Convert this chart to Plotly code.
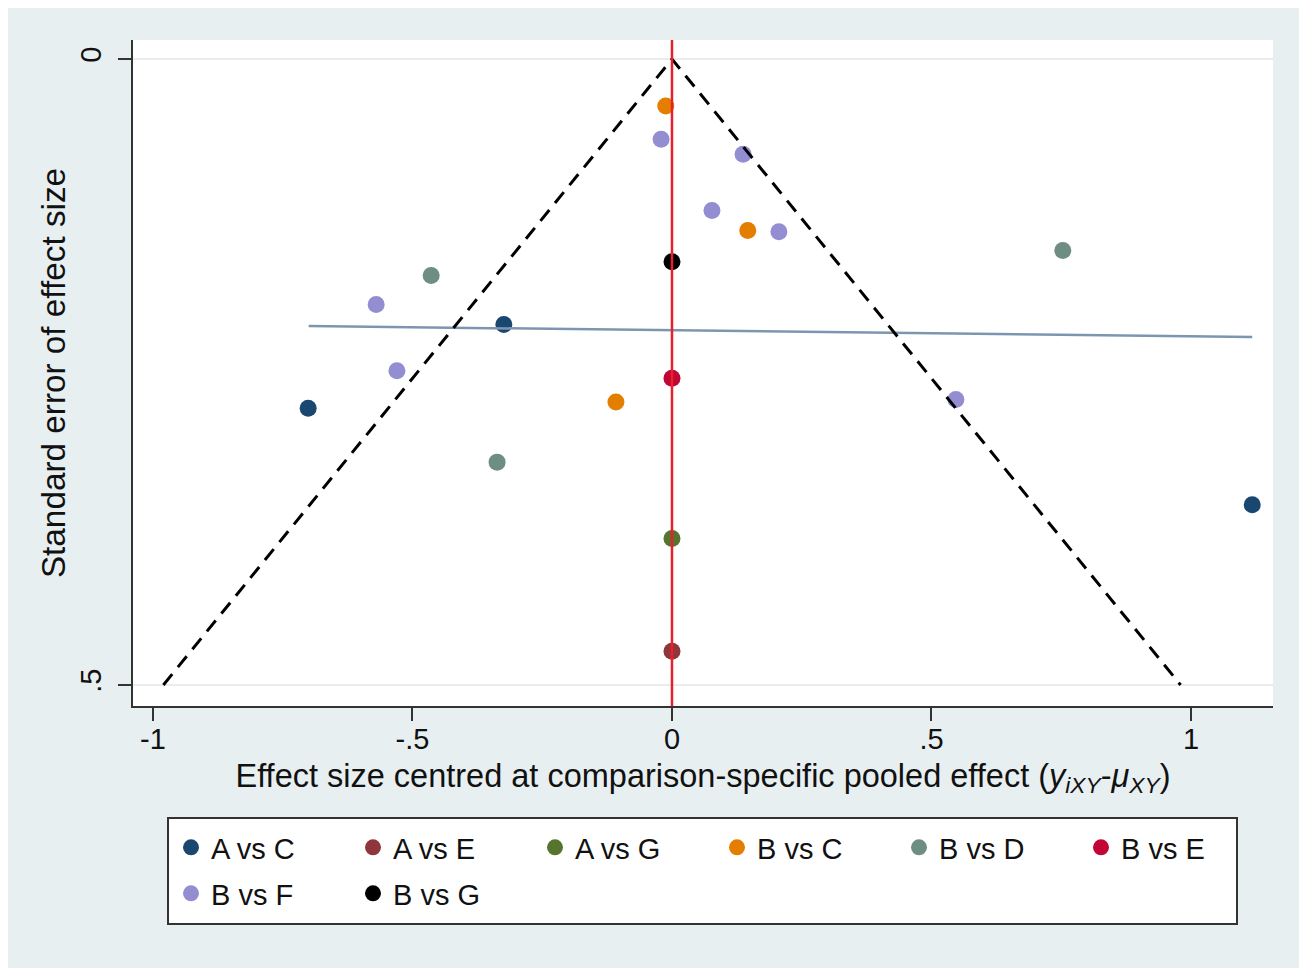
import plotly.graph_objects as go

# ---- data ----
groups = ["A vs C", "A vs E", "A vs G", "B vs C", "B vs D", "B vs E", "B vs F", "B vs G"]
colors = ["#1a476f", "#90353b", "#55752f", "#e37e00", "#6e8e84", "#c10534", "#938dd2", "#000000"]

x_AC = [-0.701, -0.324, 1.118]
y_AC = [0.279, 0.212, 0.356]
x_AE = [0.0]
y_AE = [0.473]
x_AG = [0.0]
y_AG = [0.383]
x_BC = [-0.012, 0.146, -0.108]
y_BC = [0.0375, 0.137, 0.274]
x_BD = [-0.464, 0.753, -0.337]
y_BD = [0.173, 0.153, 0.322]
x_BE = [0.0]
y_BE = [0.255]
x_BF = [-0.021, 0.137, 0.077, 0.206, -0.570, -0.530, 0.547]
y_BF = [0.064, 0.076, 0.121, 0.138, 0.196, 0.249, 0.272]
x_BG = [0.0]
y_BG = [0.162]

xs = [x_AC, x_AE, x_AG, x_BC, x_BD, x_BE, x_BF, x_BG]
ys = [y_AC, y_AE, y_AG, y_BC, y_BD, y_BE, y_BF, y_BG]

# funnel (pseudo 95% limits) and fitted line
funnel_x = [-0.98, 0.0, 0.98]
funnel_y = [0.5, 0.0, 0.5]
reg_x = [-0.70, 1.118]
reg_y = [0.2133, 0.222]

x_ticks = [-1, -0.5, 0, 0.5, 1]
x_ticktext = ["-1", "-.5", "0", ".5", "1"]
y_ticks = [0, 0.5]
y_ticktext = ["0", ".5"]

x_range = [-1.0385, 1.158]
y_range = [0.5168, -0.0152]

FONT = "Liberation Sans, Arial, sans-serif"
W, H = 1299, 963   # page body adds an 8px white margin

fig = go.Figure()
for i, (g, c, x, y) in enumerate(zip(groups, colors, xs, ys)):
    fig.add_trace(go.Scatter(
        x=x, y=y, mode="markers", name=g,
        marker=dict(color=c, size=17, line=dict(width=0)),
        legend="legend" if i < 6 else "legend2",
        hoverinfo="x+y+name",
    ))

fig.add_trace(go.Scatter(x=reg_x, y=reg_y, mode="lines", showlegend=False,
                         line=dict(color="#7d96b0", width=2.5)))
fig.add_trace(go.Scatter(x=funnel_x, y=funnel_y, mode="lines", showlegend=False,
                         line=dict(color="#000000", width=3, dash="14px,9px")))
fig.add_trace(go.Scatter(x=[0, 0], y=y_range, mode="lines", showlegend=False,
                         line=dict(color="#e8202a", width=2.5)))

axis_common = dict(
    showline=True, linecolor="#333333", linewidth=2,
    ticks="outside", ticklen=13, tickwidth=2, tickcolor="#333333",
    tickfont=dict(family=FONT, size=29, color="#111111"),
    zeroline=False, mirror=False,
)

LEG_X = (171 - 133) / 1140

fig.update_layout(
    width=W, height=H,
    margin=dict(l=125, r=34, t=32, b=265),
    paper_bgcolor="#e8eff1",
    plot_bgcolor="#ffffff",
    font=dict(family=FONT, color="#111111"),
    xaxis=dict(
        **axis_common,
        range=x_range, tickmode="array", tickvals=x_ticks, ticktext=x_ticktext,
        showgrid=False, ticklabelstandoff=-7,
        title=dict(
            text="Effect size centred at comparison-specific pooled effect (<i>y</i><sub><i>iXY</i></sub>-<i>μ</i><sub><i>XY</i></sub>)",
            font=dict(family=FONT, size=32.5, color="#111111"), standoff=10),
    ),
    yaxis=dict(
        **axis_common,
        range=y_range, tickmode="array", tickvals=y_ticks, ticktext=y_ticktext,
        tickangle=-90, ticklabelstandoff=5,
        showgrid=True, gridcolor="#ececec", gridwidth=2,
        title=dict(text="Standard error of effect size",
                   font=dict(family=FONT, size=33.3, color="#111111"), standoff=0),
    ),
    legend=dict(
        orientation="h", x=LEG_X, xanchor="left",
        y=(706 - 822) / 666, yanchor="top",
        entrywidth=137, entrywidthmode="pixels",
        font=dict(family=FONT, size=29, color="#111111"),
        bgcolor="rgba(0,0,0,0)", borderwidth=0,
    ),
    legend2=dict(
        orientation="h", x=LEG_X, xanchor="left",
        y=(706 - 868) / 666, yanchor="top",
        entrywidth=137, entrywidthmode="pixels",
        font=dict(family=FONT, size=29, color="#111111"),
        bgcolor="rgba(0,0,0,0)", borderwidth=0,
    ),
    shapes=[
        # legend box
        dict(type="rect", xref="paper", yref="paper",
             x0=(168 - 133) / 1140, x1=(1237 - 133) / 1140,
             y0=(706 - 924) / 666, y1=(706 - 818) / 666,
             fillcolor="#ffffff", line=dict(color="#333333", width=2), layer="below"),
        # thin white strips at right and bottom edges of the figure
        dict(type="rect", xref="paper", yref="paper",
             x0=(1302 - 133) / 1140, x1=(1310 - 133) / 1140,
             y0=(706 - 975) / 666, y1=(706 - 0) / 666,
             fillcolor="#ffffff", line=dict(width=0), layer="above"),
        dict(type="rect", xref="paper", yref="paper",
             x0=(0 - 133) / 1140, x1=(1310 - 133) / 1140,
             y0=(706 - 975) / 666, y1=(706 - 968) / 666,
             fillcolor="#ffffff", line=dict(width=0), layer="above"),
    ],
)

fig.write_html("out.html")
